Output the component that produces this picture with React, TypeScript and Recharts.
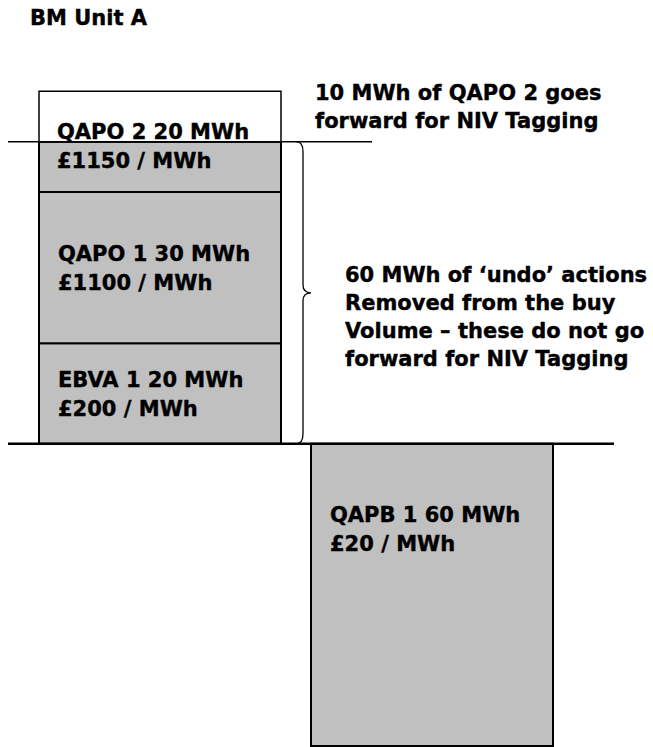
import { BarChart, Bar, XAxis, YAxis, ReferenceLine, ReferenceArea, LabelList } from 'recharts'

// stacked volumes per side (MWh)
const categories = ['Offers', 'Bids']
const ebva1 = [20, 0]
const qapo1 = [30, 0]
const qapo2Undone = [10, 0]
const qapo2Forward = [10, 0]
const qapb1 = [0, -60]

// label text for each action
const actionNames = ['EBVA 1', 'QAPO 1', 'QAPO 2', 'QAPB 1']
const actionVolumes = [20, 30, 20, 60]
const actionPrices = [200, 1100, 1150, 20]

const undoVolume = 60
const title = 'BM Unit A'
const forwardNote = ['10 MWh of QAPO 2 goes', 'forward for NIV Tagging']
const undoNote = [
  '60 MWh of \u2018undo\u2019 actions',
  'Removed from the buy',
  'Volume \u2013 these do not go',
  'forward for NIV Tagging',
]

const FONT = '"DejaVu Sans", Verdana, sans-serif'
const GREY = '#c0c0c0'

const data = categories.map((name, i) => ({
  name,
  ebva1: ebva1[i],
  qapo1: qapo1[i],
  qapo2Undone: qapo2Undone[i],
  qapo2Forward: qapo2Forward[i],
  qapb1: qapb1[i],
}))

type Mode = 'center' | 'top'

function actionLabel(action: number, mode: Mode) {
  return (props: any) => {
    const vb = props.viewBox ?? props
    const h = Number(vb.height)
    if (!props.value || !h) return null
    const top = Math.min(vb.y, vb.y + h)
    const height = Math.abs(h)
    const x = vb.x + 19
    const y1 = mode === 'top' ? top + 78 : top + height / 2 - 7
    return (
      <text fontFamily={FONT} fontWeight="bold" fontSize={21} fill="#000" stroke="#000" strokeWidth={0.4}>
        <tspan x={x} y={y1}>{`${actionNames[action]} ${actionVolumes[action]} MWh`}</tspan>
        <tspan x={x} y={y1 + 29}>{`\u00a3${actionPrices[action]} / MWh`}</tspan>
      </text>
    )
  }
}

function ForwardLine(props: any) {
  const left = Math.min(props.x1, props.x2)
  return <line x1={left} y1={props.y1} x2={372} y2={props.y2} stroke="#000" strokeWidth={1.5} />
}

function Brace(props: any) {
  const { y, height } = props
  const top = y
  const bottom = y + height
  const mid = y + height / 2
  const x0 = 296
  const x1 = 303
  const tip = 311
  const d = [
    `M${x0},${top}`,
    `Q${x1},${top} ${x1},${top + 10}`,
    `L${x1},${mid - 8}`,
    `Q${x1},${mid} ${tip},${mid}`,
    `Q${x1},${mid} ${x1},${mid + 8}`,
    `L${x1},${bottom - 10}`,
    `Q${x1},${bottom} ${x0},${bottom}`,
  ].join(' ')
  return <path d={d} fill="none" stroke="#000" strokeWidth={1.3} />
}

export default function App() {
  return (
    <div style={{ position: 'fixed', left: 0, top: 0, width: 653, height: 747, background: '#fff' }}>
      <BarChart
        width={653}
        height={747}
        data={data}
        stackOffset="sign"
        barSize={242}
        margin={{ top: 41, right: 39, bottom: 1, left: 8 }}
      >
        <XAxis dataKey="name" hide padding={{ left: 16, right: 46 }} />
        <YAxis hide domain={[-60, 80]} />
        <Bar dataKey="ebva1" stackId="a" fill={GREY} stroke="#000" strokeWidth={2} isAnimationActive={false}>
          <LabelList dataKey="ebva1" content={actionLabel(0, 'center')} />
        </Bar>
        <Bar dataKey="qapo1" stackId="a" fill={GREY} stroke="#000" strokeWidth={2} isAnimationActive={false}>
          <LabelList dataKey="qapo1" content={actionLabel(1, 'center')} />
        </Bar>
        <Bar dataKey="qapo2Undone" stackId="a" fill={GREY} stroke="#000" strokeWidth={2} isAnimationActive={false} />
        <Bar dataKey="qapo2Forward" stackId="a" fill="#fff" stroke="#000" strokeWidth={1.5} isAnimationActive={false} />
        <Bar dataKey="qapb1" stackId="a" fill={GREY} stroke="#000" strokeWidth={2} isAnimationActive={false}>
          <LabelList dataKey="qapb1" content={actionLabel(3, 'top')} />
        </Bar>
        <ReferenceArea y1={0} y2={undoVolume} fill="none" stroke="none" shape={Brace} />
        <ReferenceLine y={undoVolume} shape={ForwardLine} />
        <ReferenceLine y={0} stroke="#000" strokeWidth={2.5} />
      </BarChart>
      <svg
        width={653}
        height={747}
        style={{ position: 'absolute', left: 0, top: 0, pointerEvents: 'none' }}
        fontFamily={FONT}
        fontWeight="bold"
        fontSize={21}
        stroke="#000"
        strokeWidth={0.4}
      >
        <text x={30} y={25}>{title}</text>
        <text x={57} y={139}>{`${actionNames[2]} ${actionVolumes[2]} MWh`}</text>
        <text x={57} y={168}>{`\u00a3${actionPrices[2]} / MWh`}</text>
        {forwardNote.map((line, i) => (
          <text key={line} x={315} y={100 + i * 28}>{line}</text>
        ))}
        {undoNote.map((line, i) => (
          <text key={line} x={345} y={282 + i * 28}>{line}</text>
        ))}
      </svg>
    </div>
  )
}
